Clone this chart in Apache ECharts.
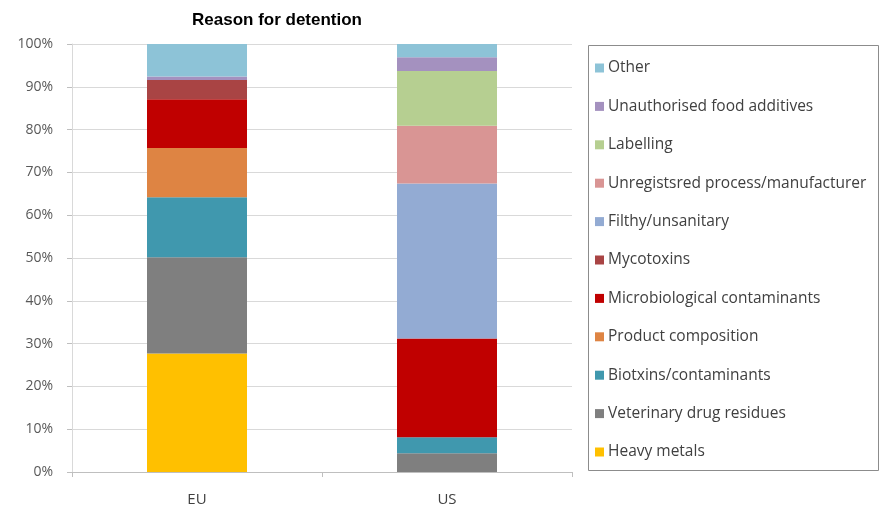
<!DOCTYPE html>
<html>
<head>
<meta charset="utf-8">
<script src="https://cdn.jsdelivr.net/npm/echarts@6/dist/echarts.min.js"></script>
<style>html,body{margin:0;padding:0;background:#fff}#c{width:885px;height:511px}</style>
</head>
<body>
<div id="c"></div>
<script>
var categories = ['EU', 'US'];
var seriesNames = ['Heavy metals', 'Veterinary drug residues', 'Biotxins/contaminants', 'Product composition',
  'Microbiological contaminants', 'Mycotoxins', 'Filthy/unsanitary', 'Unregistsred process/manufacturer',
  'Labelling', 'Unauthorised food additives', 'Other'];
var heavyMetals = [27.7, 0];
var vetDrug = [22.5, 4.4];
var biotoxins = [14.0, 3.7];
var productComp = [11.5, 0];
var microbio = [11.4, 23.1];
var mycotoxins = [4.5, 0];
var filthy = [0, 36.2];
var unregistered = [0, 13.5];
var labelling = [0, 12.8];
var unauthorised = [0.8, 3.2];
var other = [7.6, 3.1];
var yTicks = [0, 10, 20, 30, 40, 50, 60, 70, 80, 90, 100];

var seriesData = [heavyMetals, vetDrug, biotoxins, productComp, microbio, mycotoxins, filthy, unregistered, labelling, unauthorised, other];
var colors = ['#FFC000', '#7F7F7F', '#4098AE', '#DE8443', '#C00000', '#A94444', '#93ABD3', '#D99594', '#B6CF91', '#A491BF', '#8DC3D7'];

var chart = echarts.init(document.getElementById('c'), null, {renderer: 'canvas'});
var series = seriesNames.map(function (n, i) {
  return {
    name: n, type: 'bar', stack: 'all', barWidth: 100,
    data: seriesData[i],
    itemStyle: {color: colors[i]}
  };
});
chart.setOption({
  animation: false,
  backgroundColor: '#fff',
  title: {
    text: 'Reason for detention', left: 272, top: 7, textAlign: 'center',
    textStyle: {fontFamily: 'Liberation Sans', fontSize: 17, fontWeight: 'bold', color: '#000'}
  },
  grid: {left: 72, right: 313, top: 44, bottom: 39},
  legend: {
    orient: 'vertical', left: 595, top: 60, padding: 0,
    data: seriesNames.slice().reverse(),
    icon: 'rect', itemWidth: 9, itemHeight: 9, itemGap: 22.4,
    textStyle: {fontFamily: 'Open Sans', fontSize: 15.5, color: '#404040', lineHeight: 16, padding: [0, 0, 0, -1]}
  },
  graphic: [{
    type: 'rect', shape: {x: 588.5, y: 45.5, width: 290, height: 425},
    style: {fill: 'none', stroke: '#8C8C8C', lineWidth: 1}, silent: true
  }],
  xAxis: {
    type: 'category', data: categories,
    axisLine: {lineStyle: {color: '#BFBFBF'}},
    axisTick: {show: true, length: 5, lineStyle: {color: '#BFBFBF'}},
    axisLabel: {fontFamily: 'Open Sans', fontSize: 15, color: '#404040', margin: 20}
  },
  yAxis: {
    type: 'value', min: 0, max: 100, interval: 10,
    axisLine: {show: true, lineStyle: {color: '#D9D9D9'}},
    axisTick: {show: true, length: 5, lineStyle: {color: '#BFBFBF'}},
    axisLabel: {formatter: '{value}%', fontFamily: 'Open Sans', fontSize: 14, color: '#595959', margin: 19},
    splitLine: {lineStyle: {color: '#D9D9D9'}}
  },
  series: series
});
</script>
</body>
</html>
